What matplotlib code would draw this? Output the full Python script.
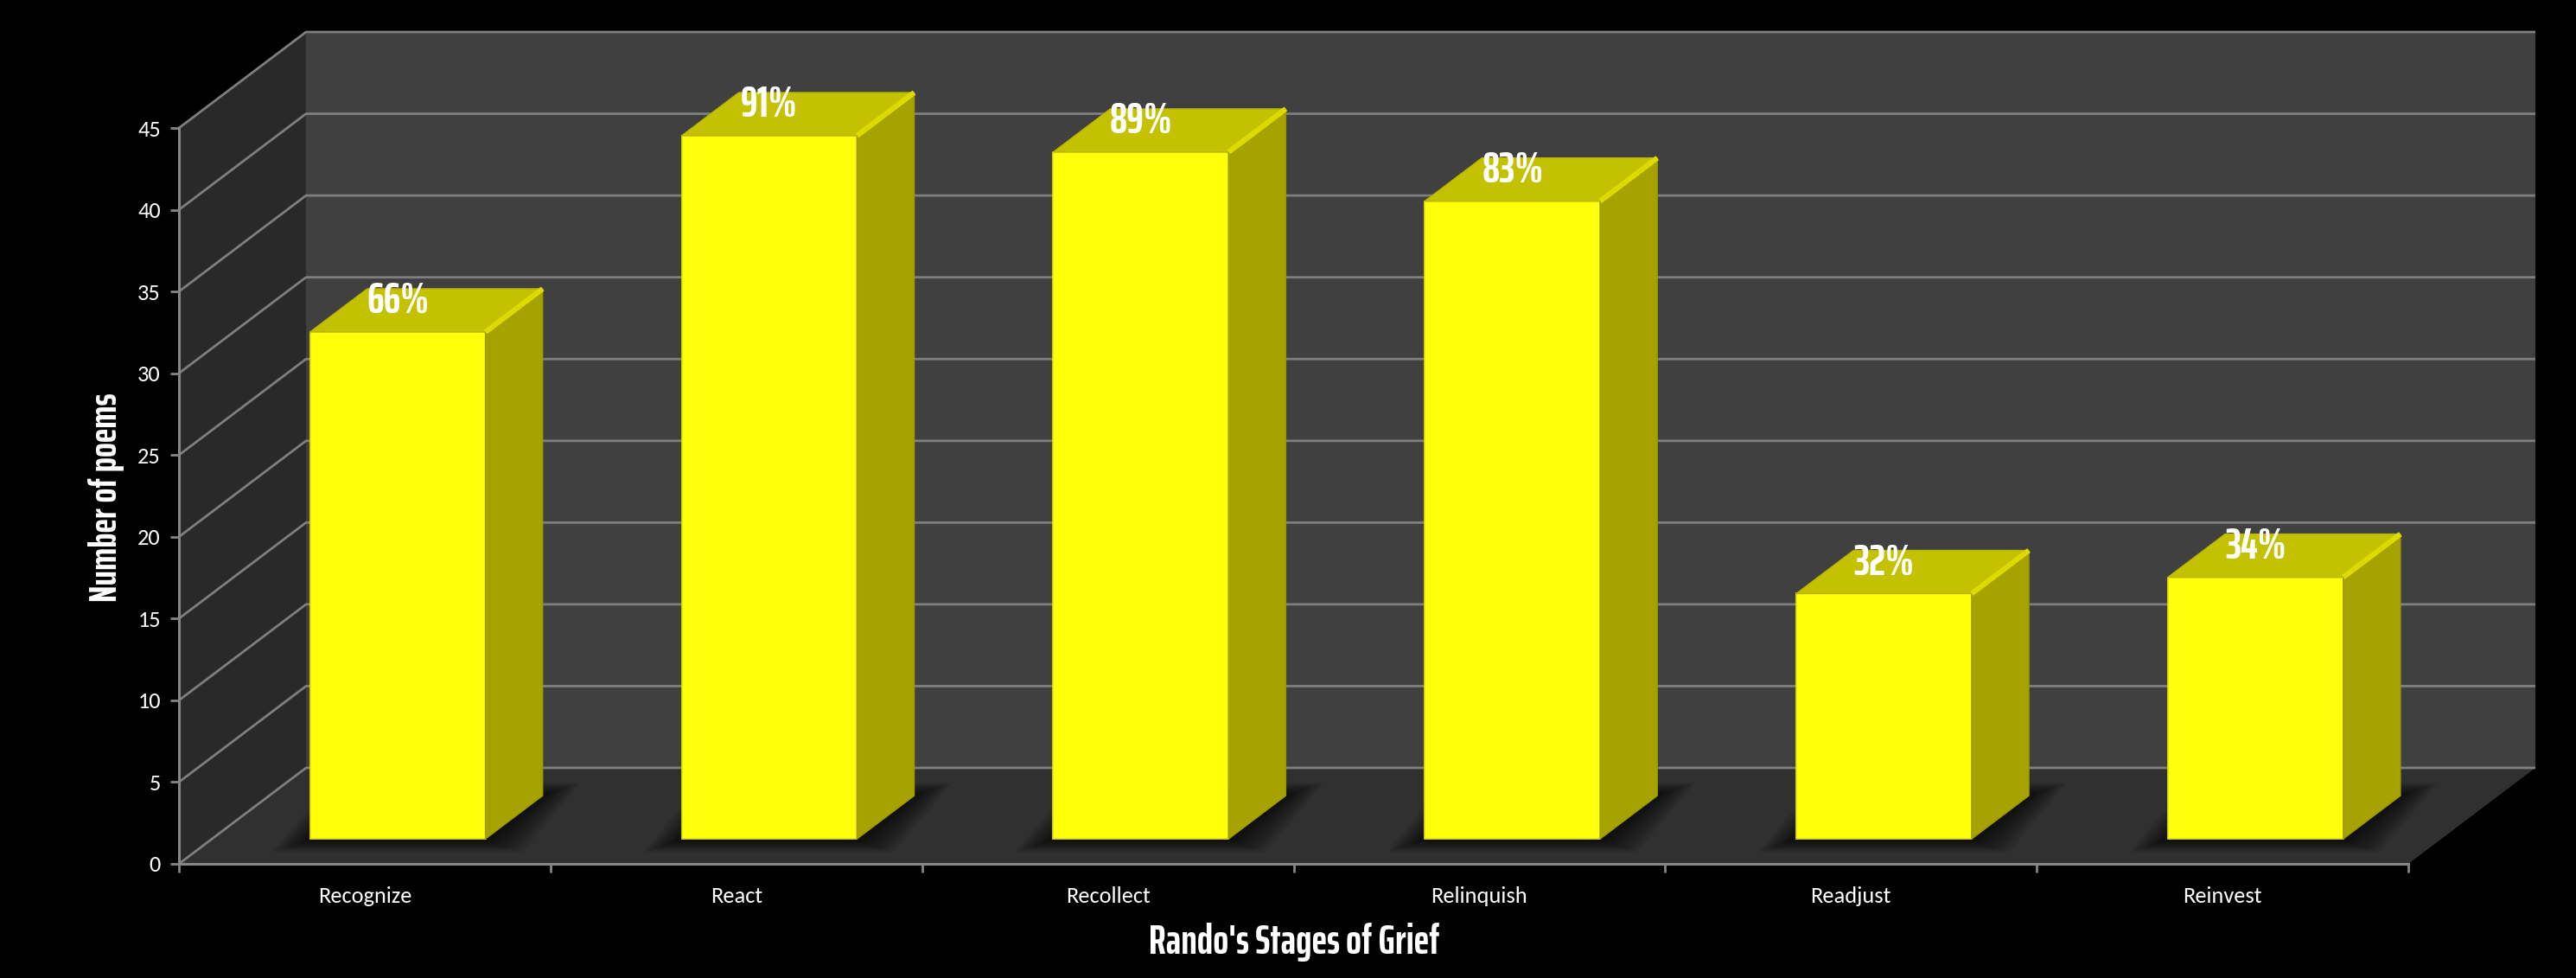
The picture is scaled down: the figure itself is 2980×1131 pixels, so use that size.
import matplotlib.pyplot as plt
from matplotlib.patches import Polygon
from matplotlib import font_manager

# data
stages = ["Recognize", "React", "Recollect", "Relinquish", "Readjust", "Reinvest"]
poems = [31, 43, 42, 39, 15, 16]
pct_labels = ["66%", "91%", "89%", "83%", "32%", "34%"]
y_ticks = [0, 5, 10, 15, 20, 25, 30, 35, 40, 45]

W, H, DPI = 2980, 1131, 200

installed = {f.name for f in font_manager.fontManager.ttflist}
narrow = dict(family="DejaVu Sans", stretch="condensed", weight="bold")
for fam in ["Saira ExtraCondensed", "Saira Condensed", "Barlow Condensed", "Roboto Condensed"]:
    if fam in installed:
        narrow = dict(family=fam, weight="bold")
        break
tick_font = "Carlito" if "Carlito" in installed else "Lato"

fig = plt.figure(figsize=(W / DPI, H / DPI), dpi=DPI)
fig.patch.set_facecolor("black")

# front plane of the 3d box, in pixels of the output
ax = fig.add_axes([207 / W, 1 - 999 / H, 2579 / W, 851 / H])
n = len(stages)
ymax = y_ticks[-1]
ax.set_xlim(0, n)
ax.set_ylim(0, ymax)
ax.patch.set_visible(False)

# depth vector of the box (oblique view), in data units
DX = 147 / 2579 * n
DY = 111 / 851 * ymax

# walls and floor
back = Polygon([(DX, DY), (n + DX, DY), (n + DX, ymax + DY), (DX, ymax + DY)],
               fc="#404040", ec="none", clip_on=False, zorder=0)
side = Polygon([(0, 0), (DX, DY), (DX, ymax + DY), (0, ymax)],
               fc="#292929", ec="none", clip_on=False, zorder=0)
floor = Polygon([(0, 0), (n, 0), (n + DX, DY), (DX, DY)],
                fc="#303030", ec="none", clip_on=False, zorder=0)
for p in (back, side, floor):
    ax.add_patch(p)

for v in y_ticks:
    ax.plot([0, DX, n + DX], [v, v + DY, v + DY], color="#7f7f7f", lw=1.0,
            clip_on=False, zorder=1, solid_capstyle="butt")

# bars
w = 0.472
d0, dd = 0.26, 0.45
x_front = [i + 0.5 + d0 * DX for i in range(n)]
y0 = d0 * DY
ddx, ddy = dd * DX, dd * DY

# soft shadows on the floor
for xc in x_front:
    x0 = xc - w / 2
    for k in range(15):
        ex = (44 - k * 3.0) / 2579 * n
        ey = (15 - k * 1.0) / 851 * ymax
        sh = Polygon([(x0 - ex, y0 - ey), (x0 + w + ex, y0 - ey),
                      (x0 + w + ddx + ex, y0 + ddy + ey), (x0 + ddx - ex, y0 + ddy + ey)],
                     fc="black", ec="none", alpha=0.06, clip_on=False, zorder=2,
                     joinstyle="round")
        ax.add_patch(sh)
        sh.set_clip_path(floor)

ax.bar(x_front, poems, width=w, bottom=y0, color="#ffff0a", edgecolor="#e8e800",
       linewidth=0.6, clip_on=False, zorder=4)

for xc, v in zip(x_front, poems):
    x0, x1 = xc - w / 2, xc + w / 2
    top = Polygon([(x0, y0 + v), (x1, y0 + v), (x1 + ddx, y0 + v + ddy), (x0 + ddx, y0 + v + ddy)],
                  fc="#c4c200", ec="#b8b600", lw=0.5, clip_on=False, zorder=4)
    right = Polygon([(x1, y0), (x1 + ddx, y0 + ddy), (x1 + ddx, y0 + v + ddy), (x1, y0 + v)],
                    fc="#a6a300", ec="#9c9a00", lw=0.5, clip_on=False, zorder=4)
    ax.add_patch(top)
    ax.add_patch(right)
    ax.plot([x1, x1 + ddx], [y0 + v, y0 + v + ddy], color="#dcda00", lw=2.2,
            clip_on=False, zorder=5, solid_capstyle="butt")

# percentage labels on top of the bars
for xc, v, lab in zip(x_front, poems, pct_labels):
    ax.text(xc, y0 + v + 1.16, lab, ha="center", va="baseline", color="white",
            fontsize=18, zorder=6, **narrow)

# axes
for s in ("top", "right"):
    ax.spines[s].set_visible(False)
for s in ("left", "bottom"):
    ax.spines[s].set_color("#868686")
    ax.spines[s].set_linewidth(1.1)
    ax.spines[s].set_zorder(3)

ax.set_yticks(y_ticks)
ax.set_yticklabels([str(t) for t in y_ticks], fontsize=9.5, family=tick_font, color="white")
ax.tick_params(axis="y", colors="#868686", length=3.6, width=1.0, pad=4, labelcolor="white")

ax.set_xticks(range(n + 1))
ax.set_xticklabels([])
ax.tick_params(axis="x", which="major", colors="#868686", length=3.6, width=1.0)
ax.set_xticks([i + 0.5 for i in range(n)], minor=True)
ax.set_xticklabels(stages, minor=True, fontsize=9.5, family=tick_font, color="white")
ax.tick_params(axis="x", which="minor", length=0, pad=9.5)

fig.text(123 / W, 1 - 575 / H, "Number of poems", rotation=90, ha="center", va="center",
         color="white", fontsize=16, **narrow)
fig.text(1497 / W, 1 - 1090 / H, "Rando's Stages of Grief", ha="center", va="center",
         color="white", fontsize=17, **narrow)

fig.savefig("out.png", dpi=DPI, facecolor="black")
